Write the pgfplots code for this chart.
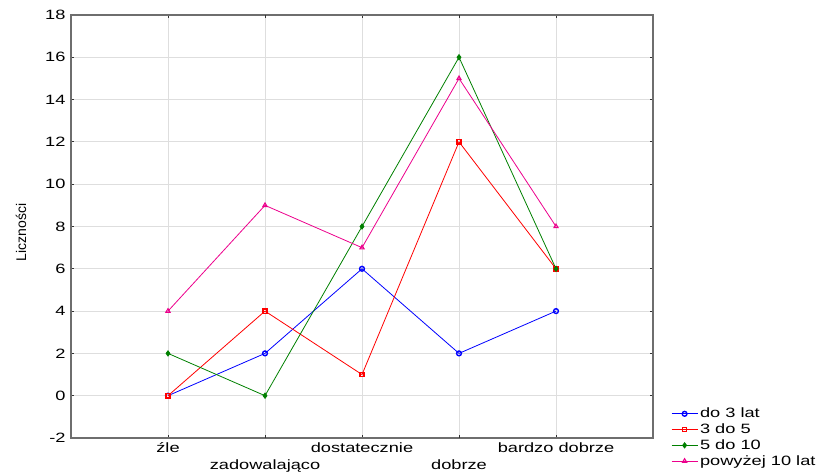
\documentclass[border=0pt]{standalone}
\usepackage{fontspec}
\setmainfont{Liberation Sans}
\newfontfamily\wide[FakeStretch=1.35]{Liberation Sans}
\usepackage{pgfplots}
\pgfplotsset{compat=1.18}
\definecolor{axgray}{RGB}{110,110,110}
\definecolor{gridgray}{RGB}{222,222,222}
\definecolor{sgreen}{RGB}{0,128,0}
\begin{document}
\begin{tikzpicture}[x=1bp,y=1bp]
\path (0,0) rectangle (824,474);
\begin{axis}[
  at={(71bp,36bp)}, anchor=south west,
  scale only axis, width=582bp, height=423bp,
  xmin=-1, xmax=5, ymin=-2, ymax=18,
  ytick={-2,0,...,18},
  xtick={0,2,4},
  xticklabels={źle,dostatecznie,bardzo dobrze},
  extra x ticks={1,3},
  extra x tick labels={zadowalająco,dobrze},
  extra x tick style={grid=major, xticklabel style={yshift=-17bp}},
  grid=major,
  major grid style={gridgray, line width=0.8bp},
  axis line style={axgray, line width=1.6bp},
  tick style={black!80, line width=0.8bp},
  major tick length=3bp,
  tick align=inside,
  /pgf/number format/assume math mode=true,
  ticklabel style={font=\wide\fontsize{13.5bp}{15bp}\selectfont},
  xticklabel style={yshift=-1bp},
  yticklabel style={xshift=-2bp},
  ylabel={Liczności},
  ylabel style={font=\fontsize{14bp}{16bp}\selectfont, yshift=12bp, xshift=-6bp},
  legend style={at={(1,0)}, anchor=north west, xshift=17bp, yshift=33bp,
    draw=none, fill=none, font=\wide\fontsize{13.5bp}{15bp}\selectfont,
    row sep=0.5bp, inner sep=1bp},
  legend cell align=left,
  legend image code/.code={\draw[mark repeat=2,mark phase=2] plot coordinates {(0bp,0bp) (13bp,0bp) (26bp,0bp)};},
  every axis plot/.append style={line width=0.8bp, mark size=2.4bp},
]
\addplot[blue, mark=o, mark options={line width=1.4bp}] coordinates {(0,0) (1,2) (2,6) (3,2) (4,4)};
\addlegendentry{do 3 lat}
\addplot[red, mark=square, mark options={line width=1.4bp, scale=0.9}] coordinates {(0,0) (1,4) (2,1) (3,12) (4,6)};
\addlegendentry{3 do 5}
\addplot[sgreen, mark=diamond*, mark options={scale=1.1}] coordinates {(0,2) (1,0) (2,8) (3,16) (4,6)};
\addlegendentry{5 do 10}
\addplot[magenta, mark=triangle, mark options={line width=1.1bp}] coordinates {(0,4) (1,9) (2,7) (3,15) (4,8)};
\addlegendentry{powyżej 10 lat}
\end{axis}
\end{tikzpicture}
\end{document}
